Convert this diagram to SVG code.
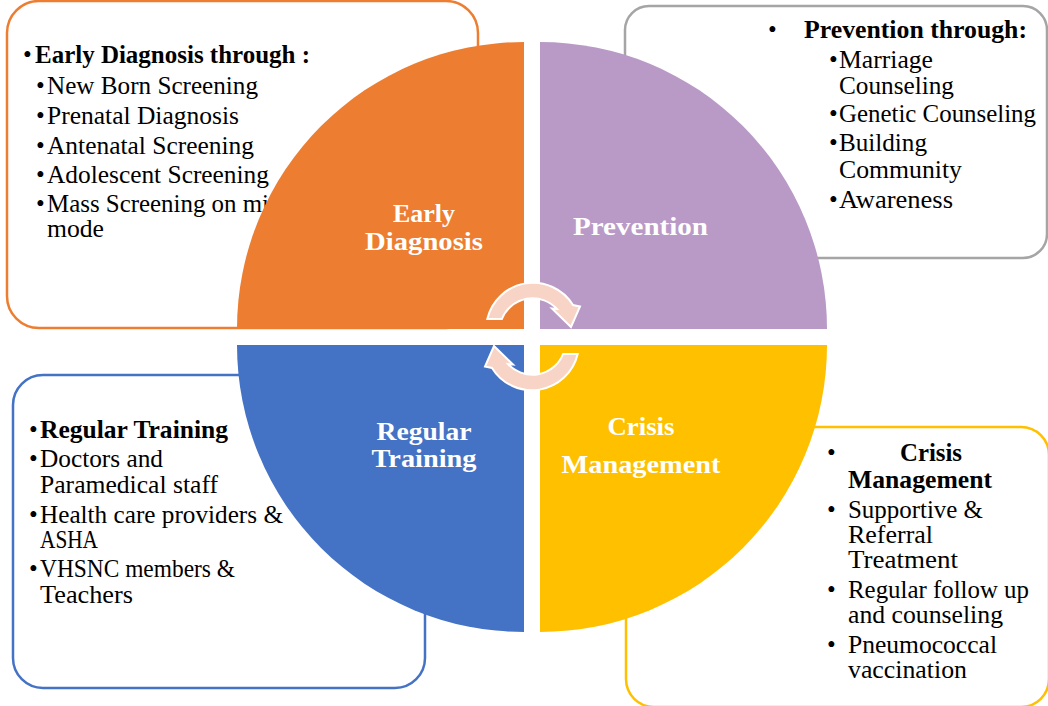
<svg xmlns="http://www.w3.org/2000/svg" width="1048" height="706" viewBox="0 0 1048 706">
<style>
text{font-family:"Liberation Serif","Times New Roman",serif;font-size:25px;fill:#000}
.b{font-weight:bold}
.lbl{font-weight:bold;fill:#fff;text-anchor:middle;font-size:25px}
.box{fill:#fff;stroke-width:2.5}
.arrow{fill:#F7D4C6;stroke:#fff;stroke-width:2;stroke-linejoin:miter}
</style>
<rect width="1048" height="706" fill="#fff"/>

<g id="box-early">
<rect class="box" x="7" y="1" width="471" height="327" rx="32" stroke="#ED7D31"/>
<text x="23" y="63">•</text>
<text class="b" x="35" y="63" textLength="275" lengthAdjust="spacingAndGlyphs">Early Diagnosis through :</text>
<text x="36" y="94">•</text><text x="47" y="94" textLength="211" lengthAdjust="spacingAndGlyphs">New Born Screening</text>
<text x="36" y="124">•</text><text x="47" y="124" textLength="192" lengthAdjust="spacingAndGlyphs">Prenatal Diagnosis</text>
<text x="36" y="154">•</text><text x="47" y="154" textLength="207" lengthAdjust="spacingAndGlyphs">Antenatal Screening</text>
<text x="36" y="183">•</text><text x="47" y="183" textLength="222" lengthAdjust="spacingAndGlyphs">Adolescent Screening</text>
<text x="36" y="212">•</text><text x="47" y="212" textLength="222" lengthAdjust="spacingAndGlyphs">Mass Screening on mi</text>
<text x="47" y="237" textLength="57" lengthAdjust="spacingAndGlyphs">mode</text>
</g>

<g id="box-prevention">
<rect class="box" x="625" y="6" width="422" height="252" rx="24" stroke="#A5A5A5"/>
<text x="768" y="38">•</text>
<text class="b" x="804" y="38" textLength="223" lengthAdjust="spacingAndGlyphs">Prevention through:</text>
<text x="829" y="68">•</text><text x="839" y="68" textLength="94" lengthAdjust="spacingAndGlyphs">Marriage</text>
<text x="839" y="94" textLength="115" lengthAdjust="spacingAndGlyphs">Counseling</text>
<text x="829" y="122">•</text><text x="839" y="122" textLength="197" lengthAdjust="spacingAndGlyphs">Genetic Counseling</text>
<text x="829" y="151">•</text><text x="839" y="151" textLength="88" lengthAdjust="spacingAndGlyphs">Building</text>
<text x="839" y="178" textLength="123" lengthAdjust="spacingAndGlyphs">Community</text>
<text x="829" y="208">•</text><text x="839" y="208" textLength="114" lengthAdjust="spacingAndGlyphs">Awareness</text>
</g>

<g id="box-training">
<rect class="box" x="13" y="375" width="412" height="313" rx="30" stroke="#4472C4"/>
<text x="29" y="438">•</text>
<text class="b" x="40" y="438" textLength="188" lengthAdjust="spacingAndGlyphs">Regular Training</text>
<text x="29" y="467">•</text><text x="40" y="467" textLength="123" lengthAdjust="spacingAndGlyphs">Doctors and</text>
<text x="40" y="493" textLength="178" lengthAdjust="spacingAndGlyphs">Paramedical staff</text>
<text x="29" y="523">•</text><text x="40" y="523" textLength="243" lengthAdjust="spacingAndGlyphs">Health care providers &amp;</text>
<text x="40" y="548" textLength="58" lengthAdjust="spacingAndGlyphs">ASHA</text>
<text x="29" y="577">•</text><text x="40" y="577" textLength="195" lengthAdjust="spacingAndGlyphs">VHSNC members &amp;</text>
<text x="40" y="603" textLength="93" lengthAdjust="spacingAndGlyphs">Teachers</text>
</g>

<g id="box-crisis">
<rect class="box" x="626" y="427" width="423" height="280" rx="28" stroke="#FFC000"/>
<text x="827" y="461">•</text>
<text class="b" x="900" y="461" textLength="62" lengthAdjust="spacingAndGlyphs">Crisis</text>
<text class="b" x="848" y="488" textLength="144" lengthAdjust="spacingAndGlyphs">Management</text>
<text x="827" y="518">•</text><text x="848" y="518" textLength="135" lengthAdjust="spacingAndGlyphs">Supportive &amp;</text>
<text x="848" y="543" textLength="85" lengthAdjust="spacingAndGlyphs">Referral</text>
<text x="848" y="568" textLength="110" lengthAdjust="spacingAndGlyphs">Treatment</text>
<text x="827" y="598">•</text><text x="848" y="598" textLength="181" lengthAdjust="spacingAndGlyphs">Regular follow up</text>
<text x="848" y="623" textLength="155" lengthAdjust="spacingAndGlyphs">and counseling</text>
<text x="827" y="653">•</text><text x="848" y="653" textLength="149" lengthAdjust="spacingAndGlyphs">Pneumococcal</text>
<text x="848" y="678" textLength="119" lengthAdjust="spacingAndGlyphs">vaccination</text>
</g>

<g id="node-early">
<path d="M524,329 L237,329 A287,287 0 0 1 524,42 Z" fill="#ED7D31"/>
<text class="lbl" x="424" y="222" textLength="62" lengthAdjust="spacingAndGlyphs">Early</text>
<text class="lbl" x="424" y="250" textLength="118" lengthAdjust="spacingAndGlyphs">Diagnosis</text>
</g>
<g id="node-prevention">
<path d="M540,329 L540,42 A287,287 0 0 1 827,329 Z" fill="#B99AC7"/>
<text class="lbl" x="640.5" y="235" textLength="135" lengthAdjust="spacingAndGlyphs">Prevention</text>
</g>
<g id="node-crisis">
<path d="M540,345 L827,345 A287,287 0 0 1 540,632 Z" fill="#FFC000"/>
<text class="lbl" x="641" y="435" textLength="67" lengthAdjust="spacingAndGlyphs">Crisis</text>
<text class="lbl" x="641" y="473" textLength="159" lengthAdjust="spacingAndGlyphs">Management</text>
</g>
<g id="node-training">
<path d="M524,345 L524,632 A287,287 0 0 1 237,345 Z" fill="#4472C4"/>
<text class="lbl" x="424" y="440" textLength="95" lengthAdjust="spacingAndGlyphs">Regular</text>
<text class="lbl" x="424" y="467" textLength="105" lengthAdjust="spacingAndGlyphs">Training</text>
</g>

<g id="connectors">
<defs>
<path id="carrow" d="M487.3,319 A47,47 0 0 1 573,305 L580,306.5 L571,327 L552,308.5 L557,309 A33,33 0 0 0 501.9,319 Z"/>
</defs>
<use href="#carrow" class="arrow"/>
<use href="#carrow" class="arrow" transform="rotate(180 532.5 336.5)"/>
</g>
</svg>
